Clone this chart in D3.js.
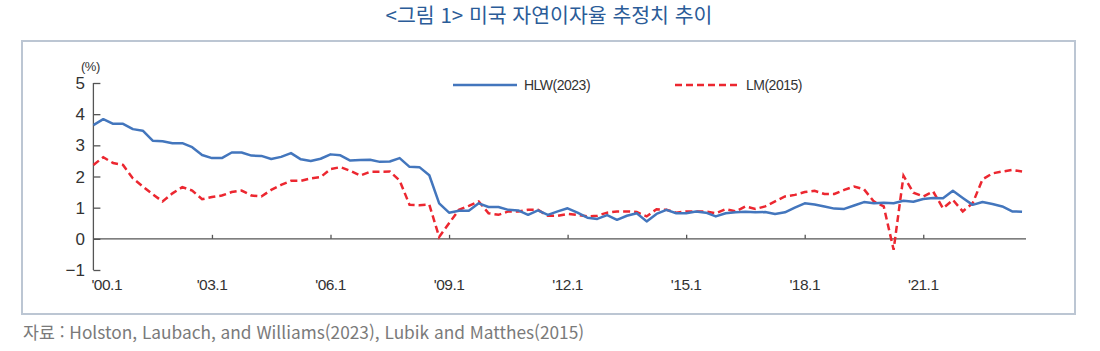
<!DOCTYPE html>
<html lang="ko">
    <head>
        <meta charset="utf-8">
        <title>미국 자연이자율 추정치 추이</title>
        <script src="https://d3js.org/d3.v7.min.js"></script>
        <style type="text/css">
          body { margin: 0; background: #fff; }
          svg { width: 1100px; height: 351px; display: block; }
          .title { font-size: 20.5px; font-family: "Noto Sans CJK KR", sans-serif; fill: #2b5c98; }
          .ticklab { font-size: 17px; font-family: "Liberation Sans", Arial, sans-serif; fill: #333; }
          .xlab { font-size: 15.5px; font-family: "Liberation Sans Narrow", "Liberation Sans", Arial, sans-serif; fill: #333; letter-spacing: -0.5px; }
          .legend { font-size: 14px; font-family: "Liberation Sans Narrow", "Liberation Sans", Arial, sans-serif; fill: #333; letter-spacing: -0.5px; }
          .source { font-size: 17.3px; font-family: "Noto Sans CJK KR", sans-serif; fill: #7a7a7a; }
        </style>
    </head>
    <body>
        <svg></svg>

        <script type="text/javascript">

        // quarterly estimates, 2000 Q1 .. 2023 Q3
        const startYear = 2000;
        const hlw = [3.65,3.84,3.69,3.69,3.52,3.47,3.15,3.13,3.07,3.07,
                     2.94,2.69,2.59,2.59,2.77,2.77,2.67,2.66,2.56,2.63,
                     2.75,2.55,2.50,2.57,2.71,2.68,2.51,2.53,2.54,2.47,
                     2.48,2.59,2.31,2.30,2.04,1.14,
                     0.84,0.90,0.90,1.14,1.02,1.02,0.93,0.91,0.77,0.91,
                     0.77,0.88,0.98,0.84,0.68,0.64,0.76,0.61,0.74,0.82,
                     0.56,0.80,0.93,0.82,0.82,0.88,0.84,0.72,0.82,0.85,
                     0.87,0.85,0.86,0.80,0.85,1.00,1.14,1.10,1.04,0.97,
                     0.96,1.07,1.18,1.14,1.16,1.14,1.22,1.19,1.28,1.31,
                     1.30,1.54,1.31,1.09,1.18,1.12,1.04,0.88,0.87];
        const lm  = [2.37,2.62,2.43,2.37,1.94,1.68,1.43,1.20,1.46,1.66,
                     1.55,1.27,1.34,1.39,1.50,1.55,1.39,1.36,1.57,1.73,
                     1.86,1.86,1.94,1.98,2.24,2.30,2.18,2.03,2.15,2.15,
                     2.16,1.87,1.09,1.08,1.10,0.06,
                     0.50,0.93,1.06,1.20,0.82,0.77,0.88,0.88,0.93,0.93,
                     0.74,0.74,0.80,0.77,0.72,0.74,0.84,0.88,0.88,0.86,
                     0.72,0.95,0.93,0.84,0.88,0.88,0.88,0.82,0.95,0.88,
                     1.04,0.96,1.04,1.20,1.36,1.41,1.50,1.54,1.44,1.44,
                     1.57,1.68,1.59,1.20,1.04,-0.35,2.02,1.48,1.36,1.52,
                     0.98,1.25,0.88,1.14,1.91,2.10,2.16,2.21,2.16];

        const yTicks = [-1, 0, 1, 2, 3, 4, 5];
        const xTicks = [2000, 2003, 2006, 2009, 2012, 2015, 2018, 2021];
        const xTickLabels = ["'00.1", "'03.1", "'06.1", "'09.1", "'12.1", "'15.1", "'18.1", "'21.1"];
        const seriesNames = ["HLW(2023)", "LM(2015)"];

        const blue = "#4376bd";
        const red = "#ec2730";

        const svg = d3.select("svg");

        // title
        svg.append("text")
            .attr("class", "title")
            .attr("x", 549)
            .attr("y", 23)
            .attr("text-anchor", "middle")
            .text("<그림 1> 미국 자연이자율 추정치 추이");

        // frame around the chart
        svg.append("rect")
            .attr("x", 22).attr("y", 41)
            .attr("width", 1053).attr("height", 273)
            .attr("fill", "none")
            .attr("stroke", "#bcc6d3")
            .attr("stroke-width", 2);

        // scales
        const x = d3.scaleLinear().domain([2000, 2023.6]).range([93.4, 1026]);
        const y = d3.scaleLinear().domain([-1, 5]).range([270, 83]);

        // y axis, ticks pointing inward
        const yAxis = svg.append("g")
            .attr("transform", "translate(" + x(2000) + ",0)")
            .call(d3.axisRight(y).tickValues(yTicks).tickSize(7).tickFormat(""));
        yAxis.select(".domain").attr("stroke", "#555").attr("stroke-width", 1.3).attr("d", "M0," + y(5) + "V" + y(-1));
        yAxis.selectAll(".tick line").attr("stroke", "#555").attr("stroke-width", 1.3);

        // y labels
        svg.selectAll(".ylab")
            .data(yTicks)
            .enter()
            .append("text")
            .attr("class", "ticklab")
            .attr("x", 85)
            .attr("y", d => y(d))
            .attr("dy", "0.36em")
            .attr("text-anchor", "end")
            .text(d => d < 0 ? "\u2212" + Math.abs(d) : d);

        svg.append("text")
            .attr("class", "legend")
            .attr("x", 81)
            .attr("y", 71)
            .style("font-size", "13px")
            .text("(%)");

        // x axis on the zero line
        const xAxis = svg.append("g")
            .attr("transform", "translate(0," + y(0) + ")")
            .call(d3.axisTop(x).tickValues(xTicks.slice(1)).tickSize(4).tickFormat(""));
        xAxis.select(".domain").attr("stroke", "#555").attr("stroke-width", 1.3).attr("d", "M" + x(2000) + ",0H" + x(2023.6));
        xAxis.selectAll(".tick line").attr("stroke", "#555").attr("stroke-width", 1.3);

        // x labels below the chart
        svg.selectAll(".xlab")
            .data(xTicks)
            .enter()
            .append("text")
            .attr("class", "xlab")
            .attr("x", (d, i) => i == 0 ? x(d) - 2 : x(d))
            .attr("y", 290)
            .attr("text-anchor", (d, i) => i == 0 ? "start" : "middle")
            .text((d, i) => xTickLabels[i]);

        // lines
        const line = d3.line()
            .x((d, i) => x(startYear + i / 4))
            .y(d => y(d));

        svg.append("path")
            .datum(lm)
            .attr("d", line)
            .attr("fill", "none")
            .attr("stroke", red)
            .attr("stroke-width", 2.5)
            .attr("stroke-dasharray", "7,4");

        svg.append("path")
            .datum(hlw)
            .attr("d", line)
            .attr("fill", "none")
            .attr("stroke", blue)
            .attr("stroke-width", 2.5)
            .attr("stroke-linejoin", "round");

        // legend
        const legend = [
            { name: seriesNames[0], color: blue, dash: null, x: 453 },
            { name: seriesNames[1], color: red, dash: "7,4", x: 675 }
        ];
        const lg = svg.selectAll(".lg")
            .data(legend)
            .enter()
            .append("g")
            .attr("transform", d => "translate(" + d.x + ",85)");
        lg.append("line")
            .attr("x1", 0).attr("x2", 64)
            .attr("stroke", d => d.color)
            .attr("stroke-width", 2.5)
            .attr("stroke-dasharray", d => d.dash);
        lg.append("text")
            .attr("class", "legend")
            .attr("x", 71)
            .attr("dy", "0.36em")
            .text(d => d.name);

        // source
        svg.append("text")
            .attr("class", "source")
            .attr("x", 23)
            .attr("y", 339)
            .text("자료 : Holston, Laubach, and Williams(2023), Lubik and Matthes(2015)");

        </script>
    </body>
</html>
